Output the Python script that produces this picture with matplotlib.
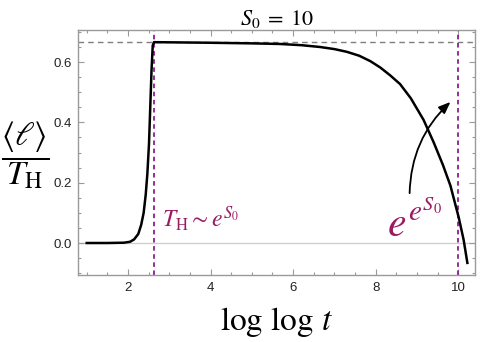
import numpy as np
import matplotlib
matplotlib.use("Agg")
import matplotlib.pyplot as plt
from matplotlib.patches import FancyArrowPatch
from matplotlib.ticker import MultipleLocator

plt.rcParams['mathtext.fontset'] = 'stix'
plt.rcParams['font.family'] = ['Liberation Sans', 'DejaVu Sans']

# curve (log log t, <l>/T_H)
loglogt = [1.0, 1.5, 1.9, 2.05, 2.15, 2.25, 2.32, 2.38, 2.43, 2.47, 2.51, 2.54,
           2.57, 2.60, 2.63, 3.0, 4.0, 5.0, 5.68, 6.2, 6.65, 7.0, 7.3, 7.6,
           7.87, 8.11, 8.35, 8.59, 8.85, 9.16, 9.4, 9.63, 9.81, 10.01, 10.13, 10.22]
ell = [0.0, 0.0, 0.001, 0.004, 0.012, 0.03, 0.06, 0.10, 0.16, 0.23, 0.33, 0.45,
       0.57, 0.655, 0.666, 0.6655, 0.664, 0.662, 0.660, 0.656, 0.650, 0.643, 0.634, 0.621,
       0.603, 0.582, 0.556, 0.527, 0.48, 0.408, 0.335, 0.258, 0.19, 0.085, 0.01, -0.066]

plateau = 2 / 3
t_hawking = 2.62
t_double_exp = 10.0

purple_line = '#8a1f8f'
purple_text = '#9b1b62'
frame_col = '#9a9a9a'

fig = plt.figure(figsize=(4.84, 3.42), dpi=100)
ax = fig.add_axes([0.162, 0.196, 0.819, 0.716])

ax.axhline(0, color='#cfcfcf', lw=1.0, zorder=1)
ax.axhline(plateau, color='#7f7f7f', lw=1.0, ls=(0, (4, 3)), zorder=1)
ax.axvline(t_hawking, color=purple_line, lw=1.3, ls=(0, (2.5, 2)), zorder=2)
ax.axvline(t_double_exp, color=purple_line, lw=1.3, ls=(0, (2.5, 2)), zorder=2)

ax.plot(loglogt, ell, color='black', lw=1.8, zorder=3)

ax.set_xlim(0.8, 10.4)
ax.set_ylim(-0.106, 0.706)
ax.xaxis.set_major_locator(MultipleLocator(2))
ax.xaxis.set_minor_locator(MultipleLocator(0.5))
ax.yaxis.set_major_locator(MultipleLocator(0.2))
ax.yaxis.set_minor_locator(MultipleLocator(0.05))
ax.tick_params(which='both', direction='in', top=True, right=True,
               color=frame_col, labelsize=9.5, labelcolor='#222222', width=0.8)
ax.tick_params(which='major', length=4, pad=5)
ax.tick_params(which='minor', length=2.2)
ax.yaxis.set_major_formatter(matplotlib.ticker.FormatStrFormatter('%.1f'))
for s in ax.spines.values():
    s.set_color(frame_col)
    s.set_linewidth(1.0)

ax.set_title(r'$S_0\; =\; 10$', fontsize=16, pad=4)
ax.set_xlabel(r'$\log\,\log\,t$', fontsize=24, labelpad=8)
ax.set_ylabel(r'$\dfrac{\langle \ell \rangle}{T_{\rm H}}$', fontsize=24,
              rotation=0, ha='center', va='center')
ax.yaxis.set_label_coords(-0.135, 0.49)

ax.text(2.82, 0.055, r'$T_{\rm H} \sim e^{S_0}$', color=purple_text,
        fontsize=17, ha='left', va='baseline')
ax.text(8.28, 0.02, r'$e^{e^{S_0}}$', color=purple_text,
        fontsize=30, ha='left', va='baseline')

arrow = FancyArrowPatch((8.82, 0.156), (9.86, 0.474),
                        connectionstyle='arc3,rad=-0.22',
                        arrowstyle='-|>,head_length=7,head_width=2.8',
                        color='black', lw=1.3, zorder=4)
ax.add_patch(arrow)

fig.savefig('out.png', dpi=100)
